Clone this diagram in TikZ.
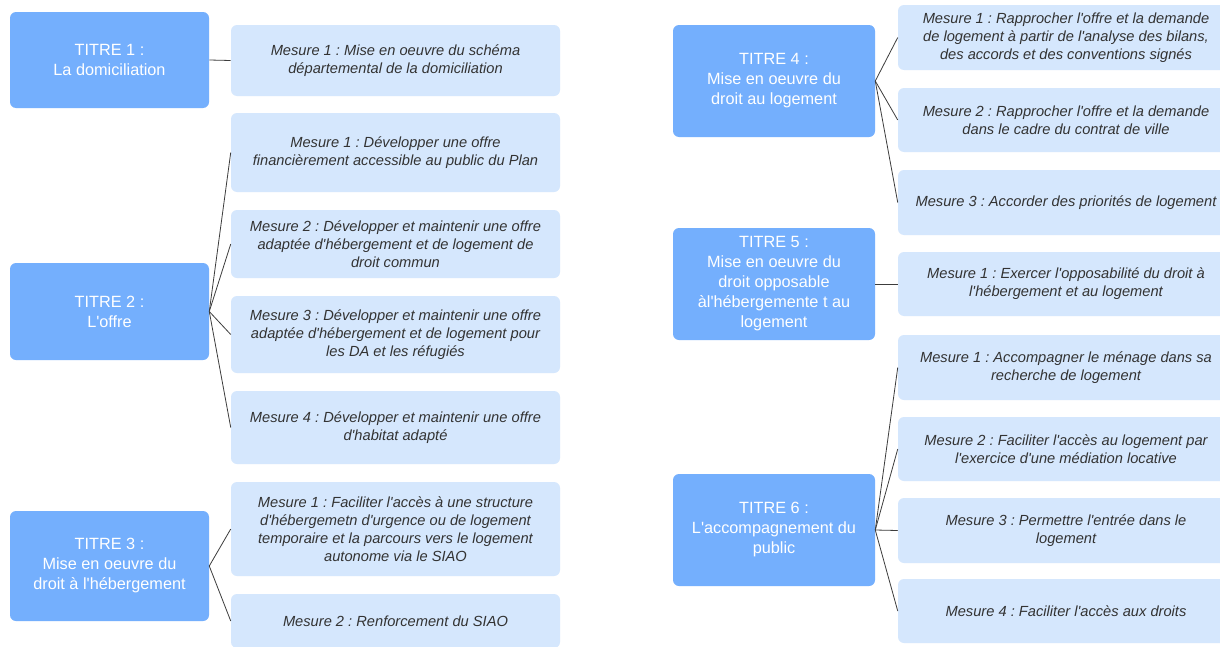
\documentclass[tikz,border=0pt]{standalone}
\usepackage{fontspec}
\setmainfont{Liberation Sans}[Ligatures=TeXOff]
\frenchspacing
\begin{document}
\definecolor{titleblue}{HTML}{74AFFD}
\definecolor{mesureblue}{HTML}{D5E7FD}
\definecolor{mesuretext}{HTML}{333333}
\definecolor{linkgray}{HTML}{3C3C3C}
\begin{tikzpicture}[x=0.75pt,y=-0.75pt,
  titlebox/.style={rectangle, rounded corners=4.5pt, fill=titleblue, text=white,
    align=center, inner sep=0pt, font=\fontsize{12.2}{15}\selectfont},
  leftbox/.style={minimum width=199*0.75pt},
  rightbox/.style={minimum width=202*0.75pt},
  mesurebox/.style={rectangle, rounded corners=4.5pt, fill=mesureblue, text=mesuretext,
    align=center, inner sep=0pt, font=\fontsize{11}{13.5}\selectfont\itshape},
  mleft/.style={minimum width=329*0.75pt},
  mright/.style={minimum width=336*0.75pt},
  h/.style={minimum height=#1*0.75pt},
  link/.style={draw=linkgray, line width=0.6pt}]
\useasboundingbox (0,0) rectangle (1220,646);
\fill[white] (0,0) rectangle (1220,646);
\clip (0,0) rectangle (1220,646);

% ---- left column: titles 1 to 3 ----
\node[titlebox, leftbox, h=96]  (t1) at (109.5,60)  {TITRE 1 :\\La domiciliation};
\node[titlebox, leftbox, h=97]  (t2) at (109.5,311.5) {TITRE 2 :\\L'offre};
\node[titlebox, leftbox, h=110] (t3) at (109.5,566) {TITRE 3 :\\Mise en oeuvre du\\droit à l'hébergement};

\node[mesurebox, mleft, h=71] (m1a) at (395.5,60.5)
  {Mesure 1 : Mise en oeuvre du schéma\\départemental de la domiciliation};

\node[mesurebox, mleft, h=79] (m2a) at (395.5,152.5)
  {Mesure 1 : Développer une offre\\financièrement accessible au public du Plan};
\node[mesurebox, mleft, h=68] (m2b) at (395.5,244)
  {Mesure 2 : Développer et maintenir une offre\\adaptée d'hébergement et de logement de\\droit commun};
\node[mesurebox, mleft, h=77] (m2c) at (395.5,334.5)
  {Mesure 3 : Développer et maintenir une offre\\adaptée d'hébergement et de logement pour\\les DA et les réfugiés};
\node[mesurebox, mleft, h=73] (m2d) at (395.5,427.5)
  {Mesure 4 : Développer et maintenir une offre\\d'habitat adapté};

\node[mesurebox, mleft, h=94] (m3a) at (395.5,529)
  {Mesure 1 : Faciliter l'accès à une structure\\d'hébergemetn d'urgence ou de logement\\temporaire et la parcours vers le logement\\autonome via le SIAO};
\node[mesurebox, mleft, h=54] (m3b) at (395.5,621)
  {Mesure 2 : Renforcement du SIAO};

% ---- right column: titles 4 to 6 ----
\node[titlebox, rightbox, h=112] (t4) at (774,81)
  {TITRE 4 :\\Mise en oeuvre du\\droit au logement};
\node[titlebox, rightbox, h=112] (t5) at (774,284)
  {TITRE 5 :\\Mise en oeuvre du\\droit opposable\\àl'hébergemente t au\\logement};
\node[titlebox, rightbox, h=112] (t6) at (774,530)
  {TITRE 6 :\\L'accompagnement du\\public};

\node[mesurebox, mright, h=65] (m4a) at (1066,37.5)
  {Mesure 1 : Rapprocher l'offre et la demande\\de logement à partir de l'analyse des bilans,\\des accords et des conventions signés};
\node[mesurebox, mright, h=64] (m4b) at (1066,120)
  {Mesure 2 : Rapprocher l'offre et la demande\\dans le cadre du contrat de ville};
\node[mesurebox, mright, h=65] (m4c) at (1066,202.5)
  {Mesure 3 : Accorder des priorités de logement};

\node[mesurebox, mright, h=64] (m5a) at (1066,284)
  {Mesure 1 : Exercer l'opposabilité du droit à\\l'hébergement et au logement};

\node[mesurebox, mright, h=65] (m6a) at (1066,367.5)
  {Mesure 1 : Accompagner le ménage dans sa\\recherche de logement};
\node[mesurebox, mright, h=64] (m6b) at (1066,449)
  {Mesure 2 : Faciliter l'accès au logement par\\l'exercice d'une médiation locative};
\node[mesurebox, mright, h=65] (m6c) at (1066,530.5)
  {Mesure 3 : Permettre l'entrée dans le\\logement};
\node[mesurebox, mright, h=64] (m6d) at (1066,611)
  {Mesure 4 : Faciliter l'accès aux droits};

% ---- connectors from each title to its measures ----
\draw[link] (t1.east) -- (m1a.west);
\foreach \m in {m2a,m2b,m2c,m2d} \draw[link] (t2.east) -- (\m.west);
\foreach \m in {m3a,m3b} \draw[link] (t3.east) -- (\m.west);
\foreach \m in {m4a,m4b,m4c} \draw[link] (t4.east) -- (\m.west);
\draw[link] (t5.east) -- (m5a.west);
\foreach \m in {m6a,m6b,m6c,m6d} \draw[link] (t6.east) -- (\m.west);
\end{tikzpicture}
\end{document}
